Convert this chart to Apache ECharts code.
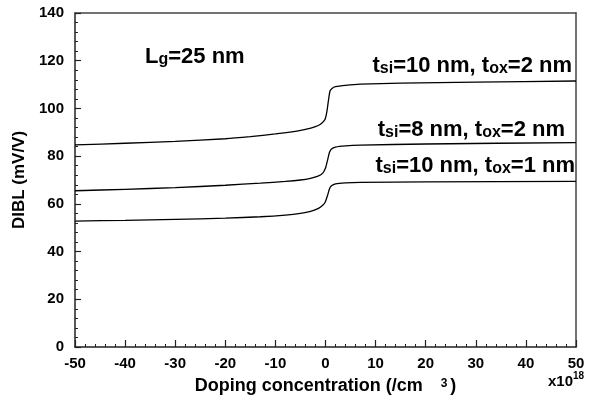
<!DOCTYPE html>
<html><head><meta charset="utf-8">
<script src="https://cdn.jsdelivr.net/npm/echarts@6/dist/echarts.min.js"></script>
<style>html,body{margin:0;padding:0;background:#fff}#c{width:594px;height:404px}</style>
</head><body><div id="c"></div>
<script>
var xTicks = [-50,-40,-30,-20,-10,0,10,20,30,40,50];
var yTicks = [0,20,40,60,80,100,120,140];

var xTop = [-50,-40,-30,-20,-15,-10,-6,-4,-2,-1,-0.3,0,0.3,0.6,0.9,1.3,2,4,7,15,30,50];
var yTop = [84.7,85.4,86.2,87.3,88.2,89.3,90.4,91.2,92.4,93.4,94.8,96,99,103.5,107.3,108.4,109.1,109.7,110.2,110.6,111.0,111.5];

var xMid = [-50,-40,-30,-20,-13,-8,-5,-3,-1.5,-0.5,0,0.4,0.8,1.2,2,4,7,20,50];
var yMid = [65.5,66.1,66.8,67.8,68.7,69.4,70.0,70.7,71.6,73.0,75.0,78.2,81.6,83.0,83.8,84.3,84.6,85.1,85.7];

var xBot = [-50,-40,-30,-20,-13,-8,-5,-3,-1.5,-0.5,0,0.4,0.8,1.2,2,4,7,20,50];
var yBot = [52.8,53.1,53.5,54.0,54.6,55.3,56.0,56.8,58.0,59.5,61.0,63.5,66.3,67.6,68.4,68.8,69.0,69.2,69.4];

function pairs(xs, ys){ return xs.map(function(x,i){return [x, ys[i]];}); }

var F = 'Liberation Sans, Arial, sans-serif';
var chart = echarts.init(document.getElementById('c'), null, {renderer:'canvas'});
function lineSeries(xs, ys){
  return {type:'line', data:pairs(xs,ys), showSymbol:false, smooth:0.2,
    lineStyle:{color:'#000', width:1.3}, xAxisIndex:0, yAxisIndex:0, silent:true};
}
function rlabel(main1, sub1, rest1, sub2, rest2){
  return '{a|'+main1+'}{s|'+sub1+'}{a|'+rest1+'}{s|'+sub2+'}{a|'+rest2+'}';
}
var rich = {a:{fontFamily:F, fontWeight:'bold', fontSize:22, color:'#000', verticalAlign:'bottom'},
            s:{fontFamily:F, fontWeight:'bold', fontSize:16, color:'#000', verticalAlign:'bottom', padding:[4,0,0,0]}};
chart.setOption({
  animation:false,
  grid:{left:75, right:18, top:13, bottom:57},
  xAxis:[{type:'value', min:-50, max:50, interval:10,
    axisLine:{show:true, onZero:false, lineStyle:{color:'#222', width:1.5}},
    axisTick:{show:true, inside:true, length:7, lineStyle:{color:'#222', width:1.2}},
    minorTick:{show:true, splitNumber:5, length:3, lineStyle:{color:'#222', width:1}},
    splitLine:{show:false},
    axisLabel:{fontFamily:F, fontWeight:'bold', fontSize:15, color:'#000', margin:9},
    name:'{n|Doping concentration (/cm  }{p|3}{n|)}', nameLocation:'middle', nameGap:30,
    nameTextStyle:{rich:{
      n:{fontFamily:F, fontWeight:'bold', fontSize:18, color:'#000', verticalAlign:'bottom'},
      p:{fontFamily:F, fontWeight:'bold', fontSize:12, color:'#000', verticalAlign:'bottom', padding:[0,3,5,8]}}}
  },{type:'value', position:'top', min:-50, max:50,
    axisLine:{show:true, onZero:false, lineStyle:{color:'#444', width:1.5}},
    axisTick:{show:false}, axisLabel:{show:false}, splitLine:{show:false}}],
  yAxis:[{type:'value', min:0, max:140, interval:20,
    axisLine:{show:true, onZero:false, lineStyle:{color:'#222', width:1.5}},
    axisTick:{show:true, inside:true, length:6, lineStyle:{color:'#222', width:1.2}},
    minorTick:{show:true, splitNumber:5, length:3, lineStyle:{color:'#222', width:1}},
    splitLine:{show:false},
    axisLabel:{fontFamily:F, fontWeight:'bold', fontSize:15, color:'#000', margin:11},
    name:'DIBL (mV/V)', nameLocation:'middle', nameGap:38, nameRotate:90,
    nameTextStyle:{fontFamily:F, fontWeight:'bold', fontSize:17, color:'#000'}
  },{type:'value', position:'right', min:0, max:140,
    axisLine:{show:true, onZero:false, lineStyle:{color:'#444', width:1.5}},
    axisTick:{show:false}, axisLabel:{show:false}, splitLine:{show:false}}],
  series:[lineSeries(xTop,yTop), lineSeries(xMid,yMid), lineSeries(xBot,yBot)],
  graphic:[
    {type:'text', left:145, top:46, style:{text:'{a|L}{s|g}{a|=25 nm}', rich:{
      a:{fontFamily:F, fontWeight:'bold', fontSize:22, color:'#000', verticalAlign:'bottom'},
      s:{fontFamily:F, fontWeight:'bold', fontSize:16, color:'#000', verticalAlign:'bottom', padding:[6,0,0,0]}}}},
    {type:'text', right:22, top:55, style:{text:rlabel('t','si','=10 nm, t','ox','=2 nm'), rich:rich}},
    {type:'text', right:29, top:119, style:{text:rlabel('t','si','=8 nm, t','ox','=2 nm'), rich:rich}},
    {type:'text', right:19, top:155, style:{text:rlabel('t','si','=10 nm, t','ox','=1 nm'), rich:rich}},
    {type:'text', left:548, top:371, style:{text:'{a|x10}{p|18}', rich:{
      a:{fontFamily:F, fontWeight:'bold', fontSize:15, color:'#000', verticalAlign:'bottom'},
      p:{fontFamily:F, fontWeight:'bold', fontSize:10, color:'#000', verticalAlign:'bottom', padding:[0,0,8,0]}}}}
  ]
});
</script></body></html>
